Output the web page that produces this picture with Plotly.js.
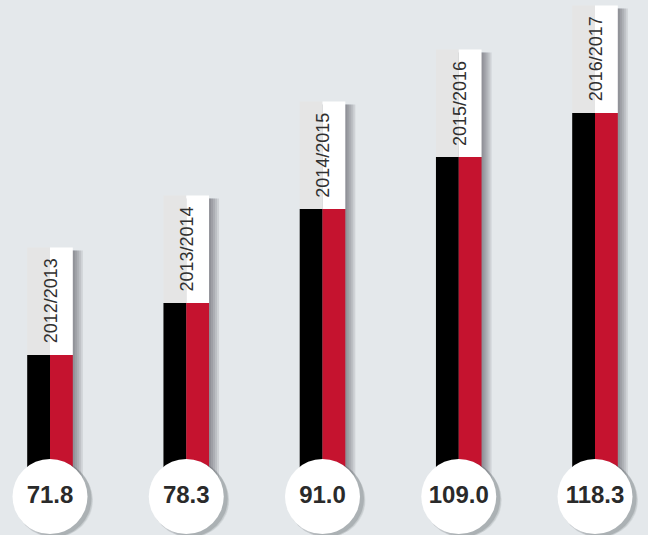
<!DOCTYPE html>
<html>
<head>
<meta charset="utf-8">
<script src="https://cdn.plot.ly/plotly-3.0.1.min.js"></script>
<style>
  html, body { margin: 0; padding: 0; background: #e4e8eb; }
  #chart { width: 648px; height: 535px; }
</style>
</head>
<body>
<div id="chart"></div>
<script>
// ---- data ----
const years = ['2012/2013', '2013/2014', '2014/2015', '2015/2016', '2016/2017'];
const values = [71.8, 78.3, 91.0, 109.0, 118.3];
// illustrative bar lengths as drawn in the infographic (chart units above the bottom edge)
const barHeights = [180, 232, 326, 378, 422];

// ---- styles ----
const BG = '#e4e8eb';
const RED = '#c5132f';
const BLACK = '#000000';
const LABEL_H = 107.5;       // height of the white label box
const BAR_BASE = 22;         // bars start hidden behind the circles
const PX = 136.25;           // px per category step
const HALF = 22.8 / PX;      // half-bar width in x units
const xs = years.map((_, i) => i);

const traces = [];

// soft shadows right of each bar + label box
for (let k = 1; k <= 5; k++) {
  traces.push({
    type: 'bar', x: xs,
    y: barHeights.map(h => h + LABEL_H - 3 - BAR_BASE),
    base: BAR_BASE,
    offset: -HALF + (k * 2) / PX,
    width: 2 * HALF,
    marker: { color: 'rgba(55,60,65,0.12)', line: { width: 0 } },
    hoverinfo: 'skip', showlegend: false
  });
}

// black left half
traces.push({
  type: 'bar', x: xs, y: barHeights.map(h => h - BAR_BASE), base: BAR_BASE,
  offset: -HALF, width: HALF,
  marker: { color: BLACK, line: { width: 0 } },
  hoverinfo: 'skip', showlegend: false
});
// red right half
traces.push({
  type: 'bar', x: xs, y: barHeights.map(h => h - BAR_BASE), base: BAR_BASE,
  offset: 0, width: HALF,
  marker: { color: RED, line: { width: 0 } },
  hoverinfo: 'skip', showlegend: false
});
// label box: light grey left half
traces.push({
  type: 'bar', x: xs, y: years.map(() => LABEL_H), base: barHeights,
  offset: -HALF, width: HALF,
  marker: { color: '#e5e5e5', line: { width: 0 } },
  hoverinfo: 'skip', showlegend: false
});
// label box: white right half
traces.push({
  type: 'bar', x: xs, y: years.map(() => LABEL_H), base: barHeights,
  offset: 0, width: HALF,
  marker: { color: '#ffffff', line: { width: 0 } },
  hoverinfo: 'skip', showlegend: false
});

// circle shadows
const CY = 38.5;
[[3, -2, 77, 0.16], [5, -3, 75, 0.10], [7, -4, 72, 0.06]].forEach(([dx, dy, s, a]) => {
  traces.push({
    type: 'scatter', mode: 'markers',
    x: xs.map(x => x + dx / PX), y: xs.map(() => CY + dy),
    marker: { size: s, color: `rgba(40,45,50,${a})`, line: { width: 0 } },
    hoverinfo: 'skip', showlegend: false
  });
});
// white value circles
traces.push({
  type: 'scatter', mode: 'markers+text',
  x: xs, y: xs.map(() => CY),
  text: values.map(v => v.toFixed(1)),
  textposition: 'middle center',
  textfont: { family: 'Liberation Sans, Arial, sans-serif', size: 24, color: '#2a2a2a', weight: 'bold' },
  marker: { size: 75, color: '#ffffff', line: { width: 0 } },
  hoverinfo: 'skip', showlegend: false
});

const annotations = years.map((yr, i) => ({
  x: i + 1 / PX, y: barHeights[i] + LABEL_H / 2,
  xref: 'x', yref: 'y',
  text: yr, textangle: -90, showarrow: false,
  xanchor: 'center', yanchor: 'middle',
  font: { family: 'Liberation Sans, Arial, sans-serif', size: 18, color: '#303030' }
}));

const layout = {
  width: 648, height: 535,
  margin: { l: 0, r: 0, t: 0, b: 0, pad: 0 },
  paper_bgcolor: BG, plot_bgcolor: BG,
  barmode: 'overlay',
  showlegend: false,
  xaxis: { range: [-50 / PX, -50 / PX + 648 / PX], visible: false, fixedrange: true },
  yaxis: { range: [0, 535], visible: false, fixedrange: true },
  annotations: annotations,
  hovermode: false
};

Plotly.newPlot('chart', traces, layout, { displayModeBar: false, staticPlot: true });
</script>
</body>
</html>
